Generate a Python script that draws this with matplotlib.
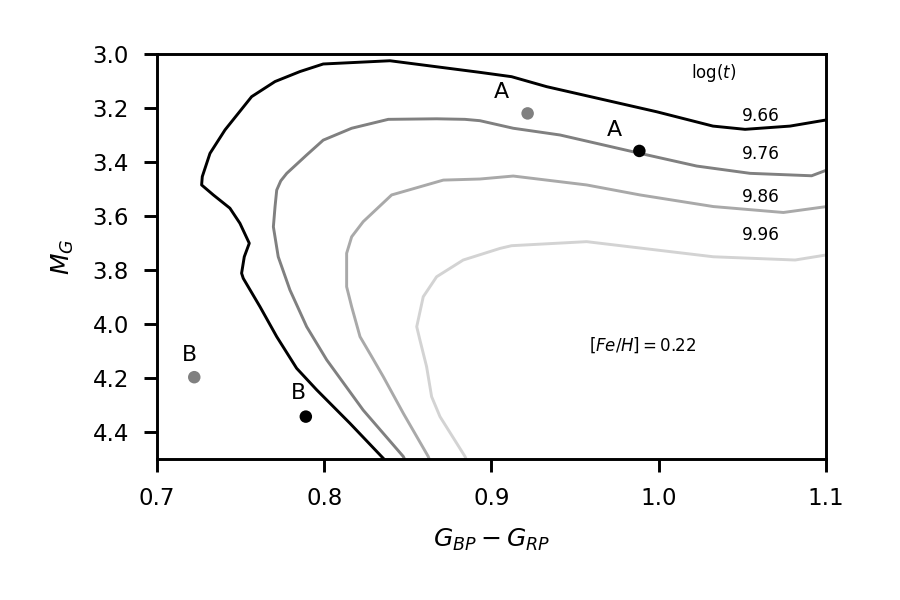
"""
Isochrones in the Gaia CMD for [Fe/H] = 0.22 with stars A and B.
Saves out.png
"""
import matplotlib.pyplot as plt

# isochrone tracks (BP-RP colour, absolute G magnitude)
ages = ["9.66", "9.76", "9.86", "9.96"]
iso_colors = ["black", "gray", "darkgray", "lightgray"]

bprp_966 = [0.8388, 0.8343, 0.8154, 0.7955, 0.7835, 0.7716, 0.7616, 0.7516, 0.7506,
            0.7522, 0.7552, 0.7496, 0.7436, 0.7337, 0.7267, 0.7271, 0.7317, 0.7407,
            0.7566, 0.7706, 0.7855, 0.7994, 0.8393, 0.8931, 0.9120, 0.9330, 0.9988,
            1.0324, 1.0516, 1.0785, 1.1004]
mg_966 = [4.520, 4.491, 4.368, 4.244, 4.164, 4.047, 3.936, 3.831, 3.812,
          3.751, 3.701, 3.627, 3.571, 3.522, 3.485, 3.454, 3.368, 3.281,
          3.158, 3.102, 3.065, 3.037, 3.025, 3.068, 3.084, 3.121, 3.214,
          3.267, 3.279, 3.267, 3.244]

bprp_976 = [0.8495, 0.8473, 0.8233, 0.8015, 0.7895, 0.7795, 0.7725, 0.7696, 0.7706,
            0.7716, 0.7740, 0.7776, 0.7895, 0.7994, 0.8164, 0.8383, 0.8672, 0.8841,
            0.8931, 0.9130, 0.9410, 0.9888, 1.0227, 1.0546, 1.0914, 1.1004]
mg_976 = [4.520, 4.491, 4.319, 4.133, 4.010, 3.874, 3.751, 3.640, 3.565,
          3.504, 3.470, 3.442, 3.374, 3.319, 3.275, 3.242, 3.240, 3.242,
          3.247, 3.275, 3.300, 3.368, 3.415, 3.442, 3.451, 3.430]

bprp_986 = [0.8640, 0.8622, 0.8473, 0.8353, 0.8284, 0.8214, 0.8164, 0.8134, 0.8134,
            0.8164, 0.8233, 0.8403, 0.8712, 0.8931, 0.9130, 0.9569, 0.9888, 1.0326,
            1.0745, 1.1004]
mg_986 = [4.520, 4.491, 4.331, 4.195, 4.121, 4.047, 3.936, 3.862, 3.738,
          3.677, 3.621, 3.522, 3.467, 3.463, 3.452, 3.485, 3.522, 3.565,
          3.587, 3.565]

bprp_996 = [0.8860, 0.8842, 0.8692, 0.8642, 0.8612, 0.8572, 0.8553, 0.8592, 0.8672,
            0.8831, 0.9051, 0.9120, 0.9569, 1.0326, 1.0815, 1.1004]
mg_996 = [4.520, 4.491, 4.343, 4.269, 4.158, 4.059, 4.010, 3.899, 3.825,
          3.763, 3.720, 3.710, 3.695, 3.751, 3.763, 3.744]

# stars A and B: grey = first estimate, black = second
star_names = ["A", "A", "B", "B"]
star_bprp = [0.9216, 0.9884, 0.7223, 0.7890]
star_mg = [3.220, 3.359, 4.197, 4.343]
star_colors = ["gray", "black", "gray", "black"]
name_bprp = [0.9060, 0.9734, 0.7197, 0.7845]
name_mg = [3.140, 3.281, 4.115, 4.257]

# age labels on the right
age_label_bprp = 1.0611
age_label_mg = [3.230, 3.370, 3.528, 3.670]


def main() -> None:
    fig = plt.figure(figsize=(3, 2), dpi=300)
    ax = fig.add_axes([0.1744, 0.235, 0.7434, 0.675])

    tracks = [(bprp_966, mg_966), (bprp_976, mg_976), (bprp_986, mg_986), (bprp_996, mg_996)]
    for (bx, my), c in zip(tracks, iso_colors):
        ax.plot(bx, my, color=c, lw=0.7)

    ax.scatter(star_bprp, star_mg, s=9, c=star_colors, zorder=3, linewidths=0)
    for name, x, y in zip(star_names, name_bprp, name_mg):
        ax.text(x, y, name, ha="center", va="center", fontsize=5.3)

    ax.text(1.0326, 3.072, r"$\log(t)$", ha="center", va="center", fontsize=4.0)
    for lab, y in zip(ages, age_label_mg):
        ax.text(age_label_bprp, y, lab, ha="center", va="center", fontsize=4.1)
    ax.text(0.9903, 4.078, r"$[Fe/H] = 0.22$", ha="center", va="center", fontsize=4.0)

    ax.set_xlim(0.7, 1.1)
    ax.set_ylim(4.5, 3.0)
    ax.set_xticks([0.7, 0.8, 0.9, 1.0, 1.1])
    ax.set_yticks([3.0, 3.2, 3.4, 3.6, 3.8, 4.0, 4.2, 4.4])
    ax.tick_params(labelsize=5.5, width=0.7, length=3.2)
    for sp in ax.spines.values():
        sp.set_linewidth(0.7)
    ax.set_xlabel(r"$G_{BP} - G_{RP}$", fontsize=6.0)
    ax.set_ylabel(r"$M_G$", fontsize=6.0)

    fig.savefig("out.png", dpi=300)
    plt.close(fig)


if __name__ == "__main__":
    main()
